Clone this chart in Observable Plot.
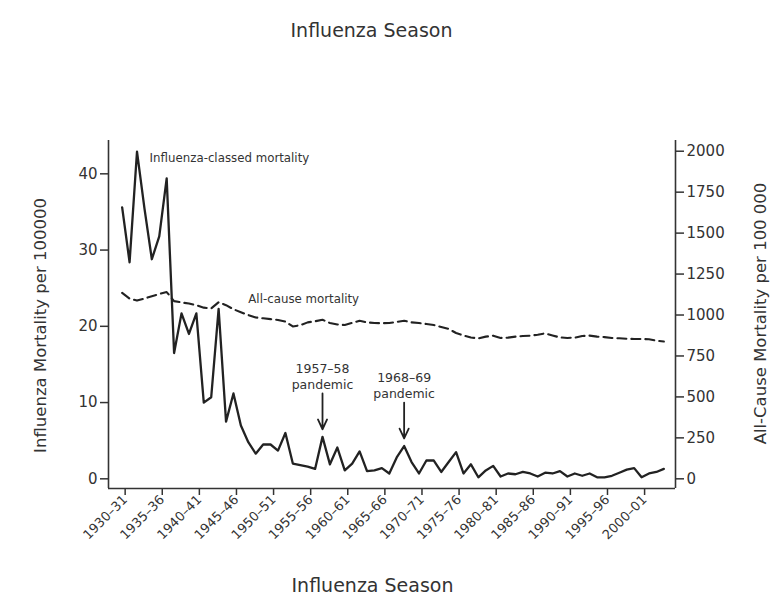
<!DOCTYPE html>
<html><head><meta charset="utf-8">
<script src="https://cdn.jsdelivr.net/npm/d3@7"></script>
<script src="https://cdn.jsdelivr.net/npm/@observablehq/plot@0.6"></script>
<style>
body{margin:0;background:#fff;font-family:"DejaVu Sans",sans-serif;}
#wrap{position:relative;width:773px;height:596px;overflow:hidden;background:#fff}
#title{position:absolute;left:0;top:0;width:743px;height:60px;line-height:60px;text-align:center;font-size:19px;color:#333}
#chart{position:absolute;left:0;top:60px}
</style></head><body>
<div id="wrap"><div id="title">Influenza Season</div><div id="chart"></div></div>
<script>
// Season start years (1930–31 ... 2003–04)
const seasonStart = [1930,1931,1932,1933,1934,1935,1936,1937,1938,1939,
  1940,1941,1942,1943,1944,1945,1946,1947,1948,1949,
  1950,1951,1952,1953,1954,1955,1956,1957,1958,1959,
  1960,1961,1962,1963,1964,1965,1966,1967,1968,1969,
  1970,1971,1972,1973,1974,1975,1976,1977,1978,1979,
  1980,1981,1982,1983,1984,1985,1986,1987,1988,1989,
  1990,1991,1992,1993,1994,1995,1996,1997,1998,1999,
  2000,2001,2002,2003];
// Influenza-classed mortality per 100 000 (left axis)
const influenzaMortality = [35.6,28.4,42.9,35.5,28.8,31.8,39.4,16.5,21.7,19.0,
  21.7,10.0,10.7,22.3,7.5,11.2,7.0,4.8,3.3,4.5,
  4.5,3.7,6.0,2.0,1.8,1.6,1.3,5.5,1.9,4.1,
  1.1,2.0,3.6,1.0,1.1,1.4,0.7,2.8,4.3,2.2,
  0.7,2.4,2.4,0.9,2.2,3.5,0.7,1.9,0.2,1.1,
  1.7,0.3,0.7,0.6,0.9,0.7,0.3,0.8,0.7,1.0,
  0.3,0.7,0.4,0.7,0.2,0.2,0.4,0.8,1.2,1.4,
  0.2,0.7,0.9,1.3];
// All-cause mortality per 100 000 (right axis)
const allCauseMortality = [1135,1100,1088,1100,1115,1128,1140,1085,1077,1070,
  1060,1045,1040,1078,1060,1035,1017,1000,985,980,
  975,970,960,930,938,955,962,971,951,942,
  939,952,965,955,951,950,951,958,965,955,
  951,945,939,927,915,890,875,863,857,868,
  874,860,862,868,872,874,880,888,875,863,
  860,862,872,874,868,865,860,858,855,854,
  854,852,843,838];
const xTicks = [1930,1935,1940,1945,1950,1955,1960,1965,1970,1975,1980,1985,1990,1995,2000];
const leftTicks = [0,10,20,30,40];
const rightTicks = [0,250,500,750,1000,1250,1500,1750,2000];
const seriesLabels = [
  {season: 1933.7, value: 42.0, text: "Influenza-classed mortality"},
  {season: 1947.0, value: 23.5, text: "All-cause mortality"}
];
const pandemics = [
  {season: 1957, label: "1957–58\npandemic"},
  {season: 1968, label: "1968–69\npandemic"}
];

const k = 46.55; // right-axis units per left-axis unit
const xDomain = [1928.16, 2004.57];
const yDomain = [-1.27, 44.37];
const rows = seasonStart.map((s, i) => ({season: s, flu: influenzaMortality[i], all: allCauseMortality[i]}));
const pRows = pandemics.map(p => {
  const flu = rows.find(r => r.season === p.season).flu;
  const tip = flu + 1.0, tail = tip + 4.7;
  return {...p, tip, tail, textY: tail + 2.3};
});
const fmtSeason = d => `${d}–${String((d + 1) % 100).padStart(2, "0")}`;
const ink = "#222";

const chart = Plot.plot({
  width: 773, height: 536,
  marginTop: 80, marginBottom: 108, marginLeft: 108, marginRight: 98,
  x: {domain: xDomain},
  y: {domain: yDomain},
  style: {fontFamily: "DejaVu Sans", fontSize: "15px", color: "#333", background: "#fff", overflow: "visible"},
  marks: [
    Plot.ruleY([yDomain[0]], {stroke: "#333", strokeWidth: 1.6}),
    Plot.ruleX(xDomain, {stroke: "#333", strokeWidth: 1.6}),
    Plot.axisX(xTicks, {tickFormat: fmtSeason, tickRotate: -45, tickSize: 7, tickPadding: 2, label: null, fontSize: 13, strokeWidth: 1.5, dx: 3}),
    Plot.axisY(leftTicks, {anchor: "left", tickSize: 8, tickPadding: 3, label: null, fontSize: 15, strokeWidth: 1.5}),
    Plot.axisY(rightTicks.map(v => v / k), {anchor: "right", tickSize: 8, tickPadding: 3, label: null, fontSize: 15, strokeWidth: 1.5,
      tickFormat: d => String(Math.round(d * k))}),
    Plot.line(rows, {x: "season", y: d => d.all / k, stroke: ink, strokeWidth: 2.1, strokeDasharray: "9,5"}),
    Plot.line(rows, {x: "season", y: "flu", stroke: ink, strokeWidth: 2.3}),
    Plot.text(seriesLabels, {x: "season", y: "value", text: "text", textAnchor: "start", fontSize: 11.8, fill: "#333"}),
    Plot.arrow(pRows, {x: "season", y1: "tail", y2: "tip", stroke: ink, strokeWidth: 1.8, headLength: 9, headAngle: 50}),
    Plot.text(pRows, {x: "season", y: "textY", text: "label", lineHeight: 1.3, fontSize: 12.5, fill: "#333"}),
    Plot.text(["Influenza Season"], {text: d => d, frameAnchor: "bottom", textAnchor: "middle", lineAnchor: "middle", dx: -19.5, dy: 97, fontSize: 19, fill: "#333"}),
    Plot.text(["Influenza Mortality per 100000"], {text: d => d, frameAnchor: "left", textAnchor: "middle", lineAnchor: "middle", dx: -68, dy: 11, rotate: -90, fontSize: 16.5, fill: "#333"}),
    Plot.text(["All-Cause Mortality per 100 000"], {text: d => d, frameAnchor: "right", textAnchor: "middle", lineAnchor: "middle", dx: 85, dy: -1, rotate: -90, fontSize: 16.5, fill: "#333"})
  ]
});
document.getElementById("chart").appendChild(chart);
</script>
</body></html>
